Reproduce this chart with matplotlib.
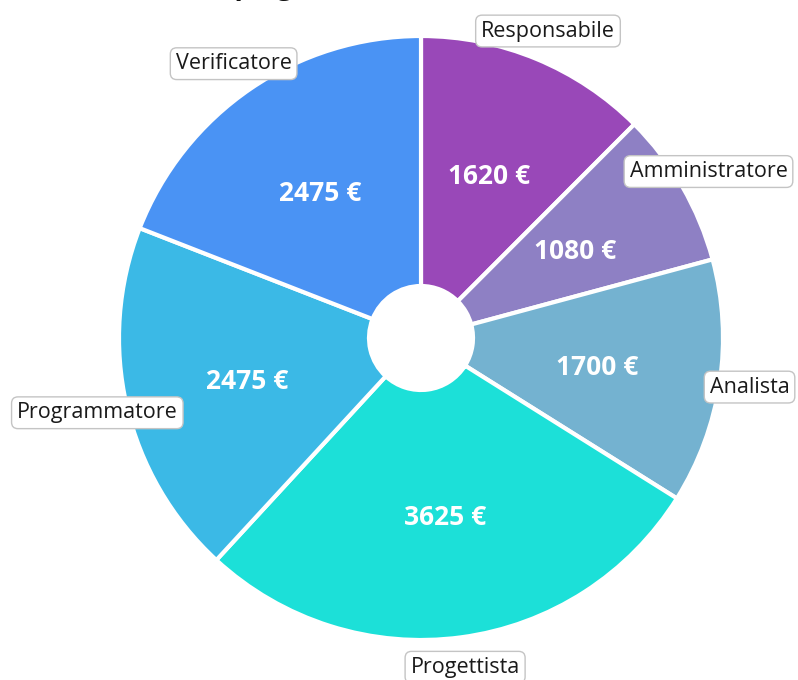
import numpy as np
import matplotlib
matplotlib.use("Agg")
import matplotlib.pyplot as plt

roles = ["Responsabile", "Amministratore", "Analista", "Progettista", "Programmatore", "Verificatore"]
costs = [1620, 1080, 1700, 3625, 2475, 2475]
colors = ["#9948b8", "#8e80c4", "#74b2d0", "#1ce0d8", "#3bb9e6", "#4a93f4"]

plt.rcParams['font.family'] = ['Open Sans', 'DejaVu Sans']

fig = plt.figure(figsize=(7.98, 6.80), dpi=100)
ax = fig.add_axes([0, 0, 1, 1])

cx, cy, R = 421, 342, 302
wedges, _ = ax.pie(costs, colors=colors, startangle=90, counterclock=False,
                   center=(cx, cy), radius=R, frame=True,
                   wedgeprops=dict(width=R - 52, edgecolor='white', linewidth=3))
ax.set_xlim(0, 798)
ax.set_ylim(0, 680)
ax.set_aspect('equal')
ax.axis('off')

for w, role, c in zip(wedges, roles, costs):
    ang = np.deg2rad((w.theta1 + w.theta2) / 2)
    ax.text(cx + 0.59 * R * np.cos(ang), cy + 0.59 * R * np.sin(ang) - 3, f"{c} €",
            color='white', fontsize=19, fontweight='bold', ha='center', va='center')
    ax.text(cx + 1.10 * R * np.cos(ang), cy + 1.10 * R * np.sin(ang), role,
            color='#1a1a1a', fontsize=15.5, ha='center', va='center',
            bbox=dict(boxstyle='round,pad=0.25,rounding_size=0.3', fc='white', ec='#c4c4c4', lw=1))

# title cut off at top of the image, only descenders visible
fig.text(0.112, 1.0095, "Costi di impiego", fontsize=20, fontweight='bold',
         ha='left', va='baseline', color='#111111')

fig.savefig("out.png", dpi=100)
